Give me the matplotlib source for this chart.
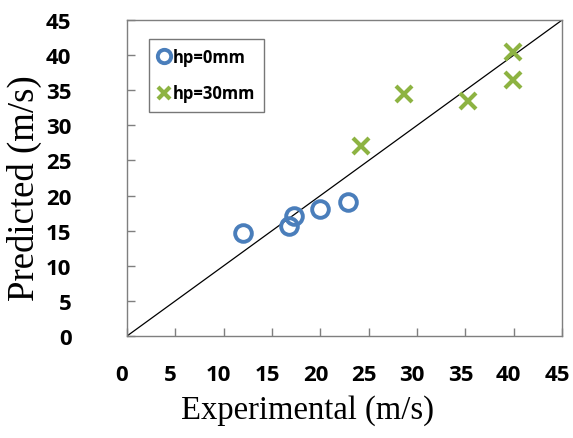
import matplotlib
matplotlib.use("Agg")
import matplotlib.pyplot as plt
import matplotlib.transforms as mtransforms
import numpy as np

# hp = 0 mm
exp_0 = [12.0, 16.8, 17.3, 20.0, 22.9]
pred_0 = [14.7, 15.6, 17.1, 18.1, 19.1]

# hp = 30 mm
exp_30 = [24.2, 28.6, 35.3, 39.9, 39.9]
pred_30 = [27.0, 34.4, 33.5, 40.4, 36.5]

ticks = [0, 5, 10, 15, 20, 25, 30, 35, 40, 45]

blue = "#4a7ebb"
green = "#8db342"


def main():
    fig = plt.figure(figsize=(5.73, 4.39), dpi=100)
    ax = fig.add_axes([0.2216, 0.2323, 0.7594, 0.7198])

    ax.plot([0, 45], [0, 45], color="black", lw=0.9, zorder=1)
    ax.plot(exp_0, pred_0, ls="none", marker="o", ms=12, mfc="none",
            mec=blue, mew=2.8, label="hp=0mm", zorder=3)
    ax.plot(exp_30, pred_30, ls="none", marker="x", ms=11.5, mec=green,
            mew=3.0, label="hp=30mm", zorder=3)

    ax.set_xlim(0, 45)
    ax.set_ylim(0, 45)
    ax.set_xticks(ticks)
    ax.set_yticks(ticks)
    tick_font = {"family": "Open Sans", "weight": "bold", "size": 16}
    ax.set_xticklabels([str(t) for t in ticks], fontdict=tick_font)
    ax.set_yticklabels([str(t) for t in ticks], fontdict=tick_font)
    ax.tick_params(direction="in", length=6, width=1, color="#7f7f7f",
                   top=False, right=False)
    ax.tick_params(axis="x", pad=20)
    ax.tick_params(axis="y", pad=40)
    # x tick labels sit a little left of their ticks in the original
    shift = mtransforms.ScaledTranslation(-0.05, 0, fig.dpi_scale_trans)
    for lab in ax.get_xticklabels():
        lab.set_transform(lab.get_transform() + shift)
    for s in ax.spines.values():
        s.set_color("#7f7f7f")
        s.set_linewidth(1.0)

    ax.set_xlabel("Experimental (m/s)", family="Liberation Serif", size=23.5)
    ax.xaxis.set_label_coords(0.416, -0.185)
    ax.set_ylabel("Predicted (m/s)", family="Liberation Serif", size=26.5)
    ax.yaxis.set_label_coords(-0.195, 0.472)

    leg = ax.legend(loc="upper left", bbox_to_anchor=(0.05, 0.94),
                    prop={"family": "Open Sans", "weight": "bold", "size": 12},
                    frameon=True, fancybox=False, edgecolor="#555555",
                    handlelength=0.7, handletextpad=0.2, borderpad=0.55,
                    labelspacing=1.1, borderaxespad=0, markerscale=0.8)
    leg.get_frame().set_linewidth(1.0)

    fig.savefig("out.png", dpi=100)


if __name__ == "__main__":
    main()
